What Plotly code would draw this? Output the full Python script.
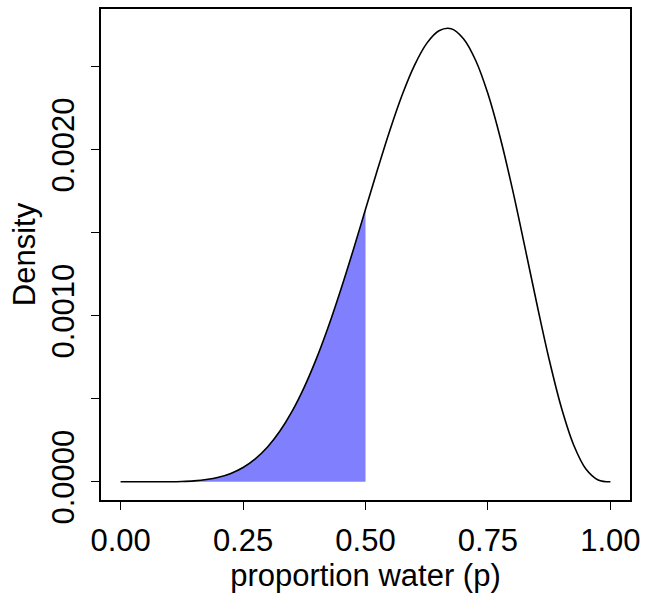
import plotly.graph_objects as go

# proportion of water (grid) and posterior density
p_grid = [0.0, 0.025, 0.05, 0.075, 0.1, 0.125, 0.15, 0.175, 0.2, 0.225, 0.25,
          0.275, 0.3, 0.325, 0.35, 0.375, 0.4, 0.425, 0.45, 0.475, 0.5,
          0.525, 0.55, 0.575, 0.6, 0.625, 0.65, 0.675, 0.7, 0.725, 0.75,
          0.775, 0.8, 0.825, 0.85, 0.875, 0.9, 0.925, 0.95, 0.975, 1.0]
density = [0.0, 0.0, 0.00000001, 0.00000012, 0.00000061, 0.00000215, 0.00000588,
           0.00001355, 0.0000275, 0.0000507, 0.0000865, 0.0001385, 0.000210,
           0.0003044, 0.000424, 0.0005703, 0.000743, 0.000941, 0.001161,
           0.001396, 0.001641, 0.001885, 0.002119, 0.002331, 0.002508,
           0.002640, 0.002716, 0.002728, 0.002668, 0.002537, 0.002336,
           0.002073, 0.001762, 0.001419, 0.001069, 0.000736, 0.000446,
           0.000222, 0.0000772, 0.0000113, 0.0]
shade_limit = 0.5

x_ticks = [0.0, 0.25, 0.5, 0.75, 1.0]
x_ticktext = ["0.00", "0.25", "0.50", "0.75", "1.00"]
y_ticks = [0.0, 0.0005, 0.0010, 0.0015, 0.0020, 0.0025]
y_ticktext = ["0.0000", "", "0.0010", "", "0.0020", ""]

shade_x = [p for p in p_grid if p <= shade_limit]
shade_y = [d for p, d in zip(p_grid, density) if p <= shade_limit]

FONT = "Liberation Sans, Arial, Helvetica, sans-serif"

fig = go.Figure()
fig.add_trace(go.Scatter(
    x=shade_x, y=shade_y, mode="lines", fill="tozeroy",
    fillcolor="#8080FF", line=dict(width=0, color="#8080FF", shape="spline"),
    hoverinfo="skip", showlegend=False))
fig.add_trace(go.Scatter(
    x=p_grid, y=density, mode="lines",
    line=dict(color="black", width=1.6, shape="spline"),
    showlegend=False))

fig.update_layout(
    width=647, height=598,
    margin=dict(l=101, r=13, t=7, b=98),
    paper_bgcolor="white", plot_bgcolor="white",
    font=dict(family=FONT, size=31, color="black"),
)
fig.update_xaxes(
    range=[-0.04, 1.04], tickvals=x_ticks, ticktext=x_ticktext,
    showgrid=False, zeroline=False, showline=True, mirror=True,
    linecolor="black", linewidth=1.6, ticks="outside", ticklen=8,
    tickwidth=1.4, tickcolor="black", ticklabelstandoff=4,
    tickfont=dict(size=31, family=FONT),
    title=dict(text="proportion water (p)", font=dict(size=31, family=FONT), standoff=6),
)
fig.update_yaxes(
    range=[-0.0001095, 0.002847], tickvals=y_ticks, ticktext=y_ticktext,
    showgrid=False, zeroline=False, showline=True, mirror=True,
    linecolor="black", linewidth=1.6, ticks="outside", ticklen=8,
    tickwidth=1.4, tickcolor="black", tickangle=-90, ticklabelstandoff=5,
    tickfont=dict(size=31, family=FONT),
    title=dict(text="Density", font=dict(size=31, family=FONT), standoff=1),
)

fig.write_html("out.html")
